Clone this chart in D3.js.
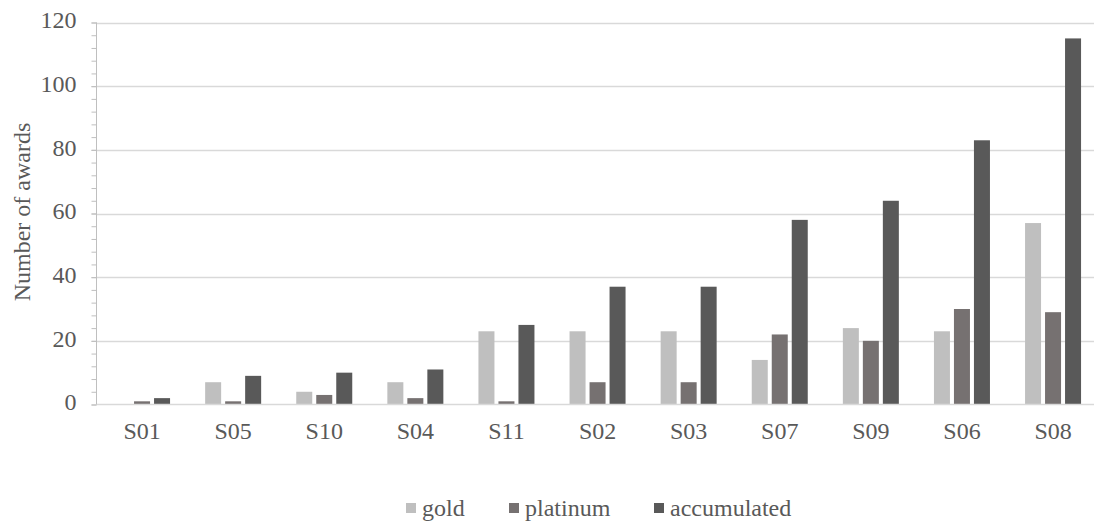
<!DOCTYPE html>
<html>
<head>
<meta charset="utf-8">
<script src="https://cdn.jsdelivr.net/npm/d3@7/dist/d3.min.js"></script>
<style>
  html, body { margin: 0; padding: 0; background: #fff; }
  svg { display: block; }
</style>
</head>
<body>
<svg id="chart" width="1094" height="525"></svg>
<script>
// Award counts per site
const categories = ["S01", "S05", "S10", "S04", "S11", "S02", "S03", "S07", "S09", "S06", "S08"];
const seriesNames = ["gold", "platinum", "accumulated"];
const gold        = [0, 7, 4, 7, 23, 23, 23, 14, 24, 23, 57];
const platinum    = [1, 1, 3, 2, 1, 7, 7, 22, 20, 30, 29];
const accumulated = [2, 9, 10, 11, 25, 37, 37, 58, 64, 83, 115];
const yTicks = [0, 20, 40, 60, 80, 100, 120];
const yTitle = "Number of awards";

const seriesValues = { gold, platinum, accumulated };
const colors = { gold: "#bfbfbf", platinum: "#767171", accumulated: "#595959" };
const fontFamily = "\"Liberation Serif\"";
const textColor = "#595959";

const svg = d3.select("#chart");
const plotLeft = 96.5, plotRight = 1098.6, plotTop = 22.5, plotBottom = 404.5;

const x = d3.scaleBand().domain(categories).range([plotLeft, plotRight]).padding(0);
const groupWidth = 56;
const xInner = d3.scaleBand().domain(seriesNames).range([0, groupWidth]).paddingInner(0.2).paddingOuter(0);
const y = d3.scaleLinear().domain([0, 120]).range([plotBottom, plotTop]);

function styleText(sel) {
  return sel.style("font-family", fontFamily).style("font-size", "24px").attr("fill", textColor);
}

// horizontal gridlines
svg.append("g")
  .selectAll("line")
  .data(yTicks.filter(d => d > 0))
  .join("line")
  .attr("x1", plotLeft).attr("x2", 1094)
  .attr("y1", d => Math.round(y(d)) + 0.5).attr("y2", d => Math.round(y(d)) + 0.5)
  .attr("stroke", "#d9d9d9").attr("stroke-width", 1.3);

// bars
const rows = categories.map((c, i) => seriesNames.map(s => ({ cat: c, series: s, value: seriesValues[s][i] })));
svg.append("g")
  .selectAll("g")
  .data(rows)
  .join("g")
  .attr("transform", d => `translate(${x(d[0].cat) + (x.bandwidth() - groupWidth) / 2},0)`)
  .selectAll("rect")
  .data(d => d.filter(v => v.value > 0))
  .join("rect")
  .attr("x", d => xInner(d.series))
  .attr("width", xInner.bandwidth())
  .attr("y", d => y(d.value))
  .attr("height", d => y(0) - y(d.value))
  .attr("fill", d => colors[d.series]);

// category axis baseline
svg.append("line")
  .attr("x1", plotLeft).attr("x2", 1094)
  .attr("y1", plotBottom).attr("y2", plotBottom)
  .attr("stroke", "#d9d9d9").attr("stroke-width", 1.5);

// value axis with major and minor ticks
const yAxisMinor = d3.axisLeft(y).tickValues(d3.range(0, 121, 4)).tickSize(5).tickFormat("");
const gMinor = svg.append("g").attr("transform", `translate(${plotLeft},0)`).call(yAxisMinor);
gMinor.selectAll("line").attr("stroke", "#bfbfbf");
gMinor.select(".domain").attr("stroke", "#bfbfbf").attr("d", `M0,${plotTop}V${plotBottom}`);

const yAxis = d3.axisLeft(y).tickValues(yTicks).tickSize(5).tickPadding(15);
const gMajor = svg.append("g").attr("transform", `translate(${plotLeft},0)`).call(yAxis);
gMajor.select(".domain").remove();
gMajor.selectAll("line").attr("stroke", "#bfbfbf");
styleText(gMajor.selectAll("text")).attr("dy", "0.22em");

// category labels
const xAxis = d3.axisBottom(x).tickSize(0).tickPadding(12);
const gx = svg.append("g").attr("transform", `translate(0,${plotBottom})`).call(xAxis);
gx.select(".domain").remove();
styleText(gx.selectAll("text")).attr("y", 0).attr("dy", 34);

// axis title
styleText(svg.append("text"))
  .attr("transform", "translate(30,212) rotate(-90)")
  .attr("text-anchor", "middle")
  .text(yTitle);

// legend
const legendX = [406, 509, 654];
const lg = svg.append("g").selectAll("g").data(seriesNames).join("g")
  .attr("transform", (d, i) => `translate(${legendX[i]},0)`);
lg.append("rect").attr("x", 0).attr("y", 503).attr("width", 10).attr("height", 10)
  .attr("fill", d => colors[d]);
styleText(lg.append("text")).attr("x", 16).attr("y", 516).text(d => d);
</script>
</body>
</html>
